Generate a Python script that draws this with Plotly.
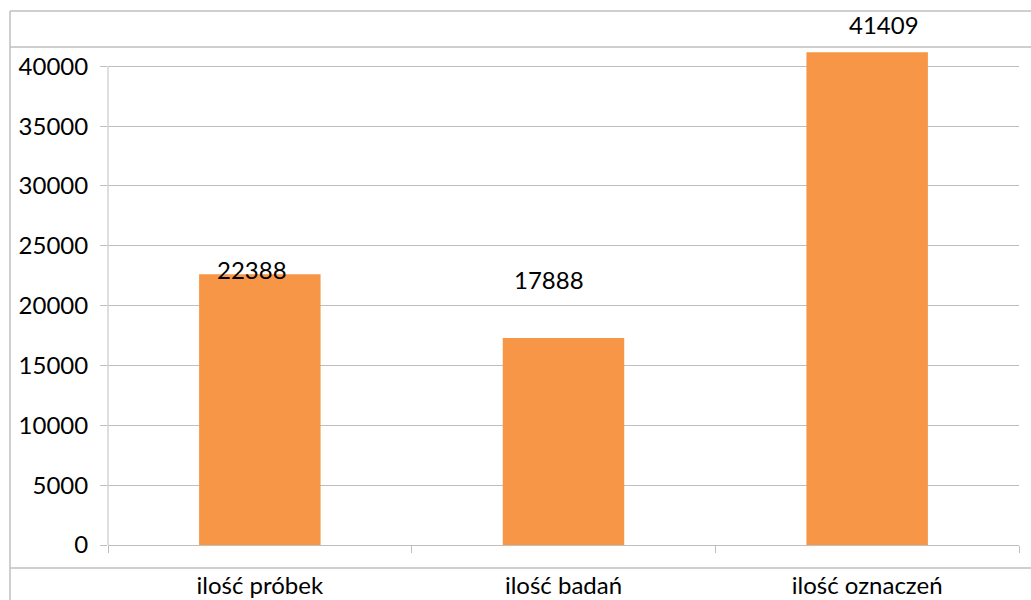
import plotly.graph_objects as go

# ---- data ----
categories = ["ilość próbek", "ilość badań", "ilość oznaczeń"]
bar_values = [22630, 17290, 41170]          # bar heights as drawn
label_texts = ["22388", "17888", "41409"]   # data labels as printed
y_ticks = [0, 5000, 10000, 15000, 20000, 25000, 30000, 35000, 40000]

# ---- styling / layout constants ----
W, H = 1031, 600
ML, MR, MT, MB = 108, 12, 34, 55
BAR_COLOR = "#F79646"
GRID = "#BFBFBF"
FONT = "Lato, 'Open Sans', sans-serif"
FS = 24
label_xshift = [-8, -15, 17]
label_yshift = [5, 59, 28]

pw = W - ML - MR
ph = H - MT - MB

def px2paper_x(px):
    return (px - ML) / pw

def px2paper_y(py):
    return (H - MB - py) / ph

fig = go.Figure(go.Bar(
    x=categories, y=bar_values,
    marker=dict(color=BAR_COLOR, line=dict(width=0)),
    width=0.4, hoverinfo="skip",
))

for i, (c, v, t) in enumerate(zip(categories, bar_values, label_texts)):
    fig.add_annotation(x=c, y=v, text=t, showarrow=False,
                       xanchor="center", yanchor="middle",
                       xshift=label_xshift[i], yshift=label_yshift[i],
                       font=dict(family=FONT, size=FS, color="black"))

# table-cell borders around the chart
border = dict(color=GRID, width=1.5)
for py in (11, 47, 568):
    fig.add_shape(type="line", xref="paper", yref="paper",
                  x0=px2paper_x(10), x1=px2paper_x(1031),
                  y0=px2paper_y(py), y1=px2paper_y(py), line=border, layer="below")
fig.add_shape(type="line", xref="paper", yref="paper",
              x0=px2paper_x(10), x1=px2paper_x(10),
              y0=px2paper_y(11), y1=px2paper_y(600), line=border, layer="below")
# value axis line (stops at the top gridline)
fig.add_shape(type="line", xref="paper", yref="y",
              x0=0, x1=0, y0=0, y1=y_ticks[-1],
              line=dict(color=GRID, width=1), layer="below")

fig.update_layout(
    width=W, height=H,
    margin=dict(l=ML, r=MR, t=MT, b=MB, autoexpand=False),
    plot_bgcolor="white", paper_bgcolor="white",
    showlegend=False,
    font=dict(family=FONT, size=FS, color="black"),
    xaxis=dict(
        automargin=False,
        showgrid=False, showline=True, linecolor=GRID, linewidth=1,
        ticks="outside", tickson="boundaries", ticklen=7, tickcolor=GRID,
        ticklabelstandoff=19, tickfont=dict(family=FONT, size=FS, color="black"),
        zeroline=False,
    ),
    yaxis=dict(
        automargin=False,
        range=[0, 42700], tickvals=y_ticks, ticktext=[str(v) for v in y_ticks],
        showgrid=True, gridcolor=GRID, gridwidth=1,
        showline=False, ticks="outside", ticklen=7, tickcolor=GRID,
        ticklabelstandoff=7, tickfont=dict(family=FONT, size=FS, color="black"),
        zeroline=False,
    ),
)

fig.write_html(
    "out.html",
    config={"displayModeBar": False},
    post_script="document.body.style.margin='0';document.body.style.overflow='hidden';",
)
